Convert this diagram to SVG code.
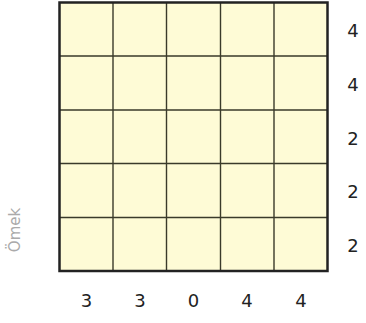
<svg xmlns="http://www.w3.org/2000/svg" width="366" height="323" viewBox="0 0 366 323">
<style>
.lbl{font-family:"DejaVu Sans",sans-serif;font-size:18px;fill:#222;text-anchor:middle}
.inner{stroke:#3a3a2a;stroke-width:1.4;fill:none}
</style>
<rect width="366" height="323" fill="#fff"/>
<g id="grid">
<rect x="59.5" y="2.5" width="268" height="268.5" fill="#fefbd6"/>
<path class="inner" d="M113,2.5V271M166.5,2.5V271M220.5,2.5V271M274,2.5V271M59.5,56H327.5M59.5,110H327.5M59.5,163.5H327.5M59.5,217.5H327.5"/>
<rect x="59.5" y="2.5" width="268" height="268.5" fill="none" stroke="#222" stroke-width="2.5"/>
</g>
<g id="row-labels">
<text class="lbl" x="353" y="37">4</text>
<text class="lbl" x="353" y="91">4</text>
<text class="lbl" x="353" y="145">2</text>
<text class="lbl" x="353" y="198">2</text>
<text class="lbl" x="353" y="252">2</text>
</g>
<g id="col-labels">
<text class="lbl" x="86.5" y="307">3</text>
<text class="lbl" x="140" y="307">3</text>
<text class="lbl" x="193.5" y="307">0</text>
<text class="lbl" x="247" y="307">4</text>
<text class="lbl" x="301" y="307">4</text>
</g>
<text transform="translate(20,230) rotate(-90)" font-family="DejaVu Sans, sans-serif" font-size="15" fill="#aaa" text-anchor="middle">Ömek</text>
</svg>
